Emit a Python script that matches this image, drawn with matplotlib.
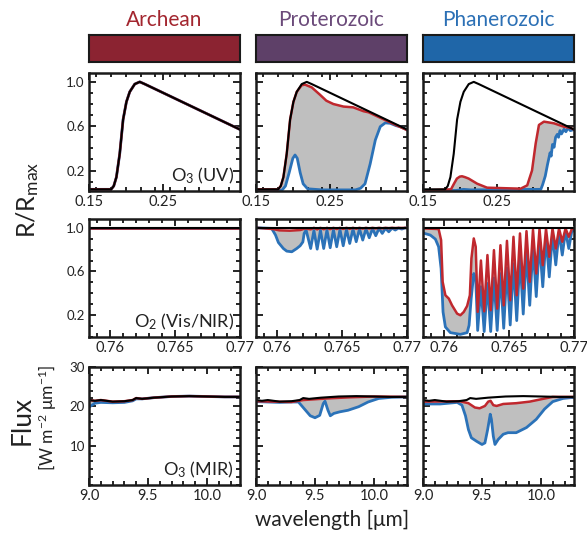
import matplotlib.pyplot as plt
from matplotlib.ticker import MultipleLocator, FixedLocator
import numpy as np

plt.rcParams['font.family'] = ['Lato', 'DejaVu Sans']
plt.rcParams['mathtext.fontset'] = 'custom'
plt.rcParams['mathtext.rm'] = 'Lato'
plt.rcParams['mathtext.default'] = 'rm'

eons = ['Archean', 'Proterozoic', 'Phanerozoic']
eon_text_colors = ['#a3262f', '#6b4a7a', '#2c70b5']
eon_bar_colors = ['#8b2331', '#5e4068', '#1f66a8']
red = '#c0282e'
blue = '#2b72b8'

# ---- O3 UV (R/Rmax) ----
uv_black_x = [0.150, 0.180, 0.1836, 0.1872, 0.1917, 0.1963, 0.2008, 0.2053, 0.2121, 0.2189, 0.2257, 0.355]
uv_black_y = [0.03, 0.03, 0.06, 0.14, 0.35, 0.66, 0.82, 0.91, 0.98, 1.00, 0.98, 0.57]

uv_prot_red_x = [0.150, 0.180, 0.1836, 0.1872, 0.1917, 0.1963, 0.2008, 0.2053, 0.2121, 0.2166, 0.2257,
                 0.237, 0.2455, 0.255, 0.2688, 0.282, 0.296, 0.303, 0.320, 0.340, 0.355]
uv_prot_red_y = [0.03, 0.03, 0.06, 0.14, 0.35, 0.66, 0.82, 0.91, 0.97, 0.975, 0.95,
                 0.883, 0.83, 0.80, 0.777, 0.77, 0.735, 0.725, 0.672, 0.61, 0.565]
uv_prot_blue_x = [0.150, 0.185, 0.190, 0.195, 0.200, 0.203, 0.206, 0.210, 0.214, 0.220, 0.240, 0.285,
                  0.292, 0.298, 0.305, 0.312, 0.3187, 0.3255, 0.3323, 0.340, 0.346, 0.355]
uv_prot_blue_y = [0.02, 0.02, 0.06, 0.18, 0.31, 0.34, 0.31, 0.18, 0.08, 0.035, 0.025, 0.025,
                  0.04, 0.08, 0.26, 0.475, 0.596, 0.63, 0.626, 0.605, 0.595, 0.568]

uv_phan_red_x = [0.150, 0.188, 0.192, 0.196, 0.200, 0.203, 0.207, 0.212, 0.2235, 0.237, 0.2825, 0.2915,
                 0.298, 0.303, 0.3074, 0.3142, 0.3278, 0.3414, 0.350, 0.355]
uv_phan_red_y = [0.02, 0.03, 0.08, 0.127, 0.145, 0.148, 0.14, 0.127, 0.081, 0.045, 0.036, 0.066,
                 0.20, 0.445, 0.611, 0.641, 0.626, 0.595, 0.585, 0.57]
uv_phan_blue_x = [0.150, 0.195, 0.205, 0.215, 0.310, 0.3124, 0.316, 0.319, 0.3225, 0.324, 0.3258, 0.328,
                  0.330, 0.3323, 0.334, 0.336, 0.338, 0.3414, 0.344, 0.347, 0.350, 0.355]
uv_phan_blue_y = [0.02, 0.02, 0.03, 0.025, 0.03, 0.072, 0.15, 0.253, 0.36, 0.33, 0.435, 0.41,
                  0.50, 0.526, 0.50, 0.56, 0.53, 0.572, 0.55, 0.585, 0.56, 0.57]

# ---- O2 A-band (R/Rmax) ----
o2_black_x = [0.7584, 0.7700]
o2_black_y = [1.0, 1.0]

# band lines: trough, peak, trough, peak ...
o2_line_x = [0.7626, 0.76285, 0.7631, 0.76335, 0.7636, 0.76385, 0.7641, 0.76435, 0.7646, 0.76485,
             0.7651, 0.76535, 0.7656, 0.76585, 0.7661, 0.76635, 0.7666, 0.76685, 0.7671, 0.76735,
             0.7676, 0.76785, 0.7681, 0.76835, 0.7686, 0.76885, 0.7691, 0.76935, 0.7696, 0.76985, 0.7700]

o2_prot_red_head_x = [0.7584, 0.7597, 0.7602, 0.7610, 0.7618, 0.7622]
o2_prot_red_head_y = [1.0, 0.988, 0.976, 0.973, 0.979, 0.994]
o2_prot_red_lines = [0.985, 0.999, 0.985, 0.999, 0.986, 0.999, 0.987, 0.999, 0.988, 0.999,
                     0.989, 0.999, 0.990, 0.999, 0.991, 0.999, 0.992, 0.999, 0.993, 0.999,
                     0.994, 0.999, 0.995, 0.999, 0.996, 0.999, 0.997, 0.999, 0.998, 0.999, 0.999]
o2_prot_blue_head_x = [0.7584, 0.7596, 0.7599, 0.76012, 0.7605, 0.76076, 0.76115, 0.76153, 0.76179,
                       0.7620, 0.7621, 0.76225]
o2_prot_blue_head_y = [1.0, 0.994, 0.933, 0.865, 0.81, 0.786, 0.78, 0.81, 0.835, 0.87, 0.948, 0.979]
o2_prot_blue_lines = [0.81, 0.975, 0.804, 0.978, 0.81, 0.98, 0.817, 0.982, 0.826, 0.984,
                      0.835, 0.986, 0.856, 0.988, 0.872, 0.99, 0.887, 0.99, 0.908, 0.992,
                      0.927, 0.994, 0.948, 0.995, 0.963, 0.996, 0.979, 0.997, 0.988, 0.998, 0.998]

o2_phan_red_head_x = [0.7584, 0.7596, 0.75979, 0.75991, 0.76012, 0.76038, 0.76063, 0.76102, 0.76127,
                      0.76153, 0.76179, 0.7620, 0.76212, 0.7623, 0.76245]
o2_phan_red_head_y = [0.994, 0.988, 0.887, 0.505, 0.382, 0.352, 0.29, 0.214, 0.199,
                      0.229, 0.284, 0.382, 0.719, 0.902, 0.826]
o2_phan_red_lines = [0.23, 0.70, 0.235, 0.75, 0.245, 0.795, 0.26, 0.84, 0.29, 0.88,
                     0.336, 0.917, 0.382, 0.948, 0.443, 0.969, 0.505, 0.982, 0.581, 0.988,
                     0.657, 0.991, 0.734, 0.994, 0.81, 0.994, 0.872, 0.994, 0.917, 0.994, 0.99]
o2_phan_blue_head_x = [0.7584, 0.75896, 0.75935, 0.7596, 0.75979, 0.75994, 0.76012, 0.7605, 0.76127,
                       0.76179, 0.76194, 0.7621, 0.7623, 0.76245]
o2_phan_blue_head_y = [0.952, 0.933, 0.896, 0.826, 0.627, 0.229, 0.092, 0.04, 0.024,
                       0.04, 0.107, 0.352, 0.581, 0.535]
o2_phan_blue_lines = [0.06, 0.46, 0.05, 0.49, 0.05, 0.54, 0.06, 0.58, 0.08, 0.63,
                      0.11, 0.67, 0.15, 0.73, 0.21, 0.78, 0.29, 0.83, 0.37, 0.87,
                      0.46, 0.91, 0.55, 0.94, 0.66, 0.96, 0.75, 0.97, 0.81, 0.98, 0.97]

# ---- O3 MIR (flux) ----
mir_black_x = [9.0, 9.05, 9.1, 9.2, 9.3, 9.37, 9.4, 9.45, 9.55, 9.7, 9.85, 10.0, 10.15, 10.28]
mir_black_y = [21.6, 21.4, 21.6, 21.2, 21.3, 21.6, 22.1, 21.9, 22.2, 22.5, 22.6, 22.5, 22.4, 22.4]
mir_arch_blue_y = [19.8, 20.8, 21.0, 20.9, 21.0, 21.4, 21.9, 21.9, 22.2, 22.5, 22.6, 22.5, 22.4, 22.4]

mir_prot_red_x = [9.0, 9.3, 9.4, 9.5, 9.6, 9.8, 10.0, 10.28]
mir_prot_red_y = [21.3, 21.1, 21.6, 21.8, 22.0, 22.3, 22.5, 22.4]
mir_prot_blue_x = [9.0, 9.2, 9.3, 9.36, 9.42, 9.46, 9.50, 9.54, 9.57, 9.585, 9.61, 9.63, 9.66, 9.71,
                   9.78, 9.87, 9.95, 10.04, 10.15, 10.28]
mir_prot_blue_y = [21.2, 21.0, 21.1, 21.1, 19.0, 17.6, 17.1, 17.7, 20.7, 21.3, 19.0, 17.6, 18.2, 18.6,
                   19.0, 19.9, 21.1, 22.0, 22.3, 22.4]

mir_phan_red_x = [9.0, 9.31, 9.385, 9.44, 9.48, 9.525, 9.553, 9.573, 9.596, 9.624, 9.68, 9.79, 9.905,
                  10.017, 10.10, 10.28]
mir_phan_red_y = [21.2, 21.3, 20.8, 19.7, 19.5, 20.1, 21.2, 21.4, 20.3, 20.1, 20.6, 20.8, 21.2,
                  21.9, 22.4, 22.4]
mir_phan_blue_x = [9.0, 9.146, 9.29, 9.33, 9.36, 9.385, 9.41, 9.455, 9.50, 9.525, 9.548, 9.57, 9.58,
                   9.596, 9.61, 9.638, 9.68, 9.72, 9.79, 9.877, 9.96, 10.03, 10.10, 10.186, 10.28]
mir_phan_blue_y = [20.6, 20.6, 21.0, 20.3, 17.6, 14.1, 12.0, 11.1, 10.3, 10.7, 14.1, 18.0, 16.7,
                   12.4, 10.3, 11.6, 12.9, 13.3, 13.3, 14.6, 16.7, 19.3, 21.2, 22.0, 22.3]

o2_prot_red_x = o2_prot_red_head_x + o2_line_x
o2_prot_red_y = o2_prot_red_head_y + o2_prot_red_lines
o2_prot_blue_x = o2_prot_blue_head_x + o2_line_x
o2_prot_blue_y = o2_prot_blue_head_y + o2_prot_blue_lines
o2_phan_red_x = o2_phan_red_head_x + o2_line_x
o2_phan_red_y = o2_phan_red_head_y + o2_phan_red_lines
o2_phan_blue_x = o2_phan_blue_head_x + o2_line_x
o2_phan_blue_y = o2_phan_blue_head_y + o2_phan_blue_lines

# rows: (black, [(red, blue) per eon])
rows = [
    ((uv_black_x, uv_black_y),
     [((uv_black_x, uv_black_y), (uv_black_x, uv_black_y)),
      ((uv_prot_red_x, uv_prot_red_y), (uv_prot_blue_x, uv_prot_blue_y)),
      ((uv_phan_red_x, uv_phan_red_y), (uv_phan_blue_x, uv_phan_blue_y))]),
    ((o2_black_x, o2_black_y),
     [((o2_black_x, o2_black_y), (o2_black_x, o2_black_y)),
      ((o2_prot_red_x, o2_prot_red_y), (o2_prot_blue_x, o2_prot_blue_y)),
      ((o2_phan_red_x, o2_phan_red_y), (o2_phan_blue_x, o2_phan_blue_y))]),
    ((mir_black_x, mir_black_y),
     [((mir_black_x, mir_black_y), (mir_black_x, mir_arch_blue_y)),
      ((mir_prot_red_x, mir_prot_red_y), (mir_prot_blue_x, mir_prot_blue_y)),
      ((mir_phan_red_x, mir_phan_red_y), (mir_phan_blue_x, mir_phan_blue_y))]),
]

xlims = [(0.15, 0.355), (0.7584, 0.7700), (9.0, 10.28)]
ylims = [(0.015, 1.08), (0.0, 1.08), (0.0, 30.0)]
xmajor = [[0.15, 0.25], [0.76, 0.765, 0.77], [9.0, 9.5, 10.0]]
xlabels = [['0.15', '0.25'], ['0.76', '0.765', '0.77'], ['9.0', '9.5', '10.0']]
xminor = [0.02, 0.001, 0.1]
ymajor = [[0.2, 0.6, 1.0], [0.2, 0.6, 1.0], [10, 20, 30]]
ylabels = [['0.2', '0.6', '1.0'], ['0.2', '0.6', '1.0'], ['10', '20', '30']]
yminor = [0.1, 0.1, 2]
species = ['O$_3$ (UV)', 'O$_2$ (Vis/NIR)', 'O$_3$ (MIR)']

W, H = 587, 535
fig = plt.figure(figsize=(W / 100, H / 100), dpi=100)

col_left = [89, 256, 423]
row_top = [73, 219, 367]
pw, ph = 151, 118
txt = '#222222'

for c in range(3):
    bar = fig.add_axes([col_left[c] / W, 1 - 62 / H, pw / W, 27 / H])
    bar.set_facecolor(eon_bar_colors[c])
    bar.set_xticks([])
    bar.set_yticks([])
    for s in bar.spines.values():
        s.set_linewidth(1.5)
        s.set_color('#1a1a1a')
    fig.text((col_left[c] + pw / 2) / W, 1 - 20 / H, eons[c], color=eon_text_colors[c],
             fontsize=15, ha='center', va='center')

for r in range(3):
    black, curves = rows[r]
    for c in range(3):
        ax = fig.add_axes([col_left[c] / W, 1 - (row_top[r] + ph) / H, pw / W, ph / H])
        (rx, ry), (bx, by) = curves[c]
        ax.fill(np.r_[rx, bx[::-1]], np.r_[ry, by[::-1]], color='#bfbfbf', lw=0)
        ax.plot(bx, by, color=blue, lw=2.0)
        ax.plot(rx, ry, color=red, lw=1.8)
        ax.plot(black[0], black[1], color='black', lw=1.5)
        ax.set_xlim(*xlims[r])
        ax.set_ylim(*ylims[r])
        ax.xaxis.set_major_locator(FixedLocator(xmajor[r]))
        ax.set_xticklabels(xlabels[r], fontsize=10.5, color=txt)
        ax.xaxis.set_minor_locator(MultipleLocator(xminor[r]))
        ax.yaxis.set_major_locator(FixedLocator(ymajor[r]))
        ax.yaxis.set_minor_locator(MultipleLocator(yminor[r]))
        if c == 0:
            ax.set_yticklabels(ylabels[r], fontsize=9.5, color=txt)
            ax.text(0.96, 0.04, species[r], transform=ax.transAxes, ha='right', va='bottom',
                    fontsize=13, color=txt)
        else:
            ax.set_yticklabels([])
        ax.tick_params(which='both', direction='in', top=True, right=True, width=1.2, pad=3)
        ax.tick_params(which='major', length=5)
        ax.tick_params(which='minor', length=3)
        for s in ax.spines.values():
            s.set_linewidth(1.8)
            s.set_color('#1a1a1a')

fig.text(28 / W, 1 - 200 / H, 'R/R$_{max}$', rotation=90, ha='center', va='center',
         fontsize=18, color=txt)
fig.text(22 / W, 1 - 420 / H, 'Flux', rotation=90, ha='center', va='center', fontsize=19, color=txt)
fig.text(48 / W, 1 - 418 / H, '[W m$^{-2}$ μm$^{-1}$]', rotation=90, ha='center', va='center',
         fontsize=12.5, color=txt)
fig.text(332 / W, 1 - 520 / H, 'wavelength [μm]', ha='center', va='center', fontsize=15, color=txt)

plt.savefig('out.png', dpi=100)
